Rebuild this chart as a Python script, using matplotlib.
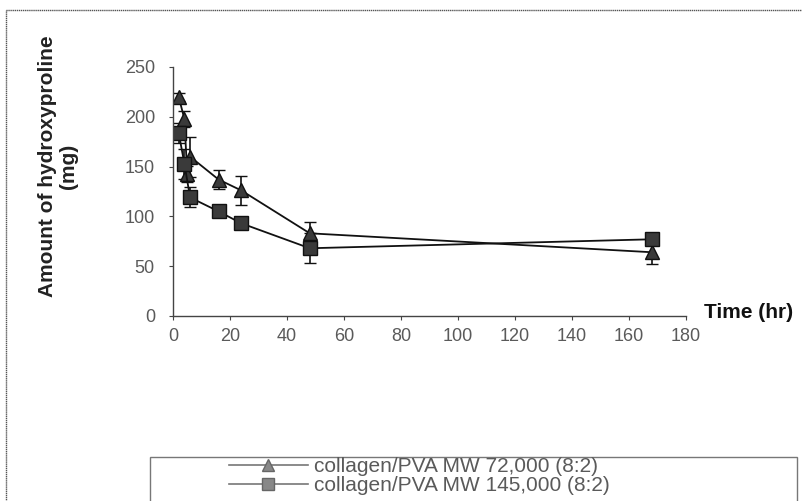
import matplotlib
matplotlib.use("Agg")
import matplotlib.pyplot as plt
from matplotlib.patches import Rectangle
from matplotlib.lines import Line2D

plt.rcParams['font.family'] = ['Liberation Sans', 'DejaVu Sans']

# Time points (hr) and hydroxyproline amounts (mg)
time_72k = [2, 4, 5, 6, 16, 24, 48, 168]
amount_72k = [220, 198, 143, 160, 137, 126, 83, 64]
err_72k = [4, 8, 8, 20, 10, 15, 11, 12]

time_145k = [2, 4, 6, 16, 24, 48, 168]
amount_145k = [184, 153, 119, 105, 93, 68, 77]
err_145k = [10, 15, 10, 4, 4, 15, 6]

labels = ["collagen/PVA MW 72,000 (8:2)", "collagen/PVA MW 145,000 (8:2)"]
x_ticks = list(range(0, 181, 20))
y_ticks = list(range(0, 251, 50))

fig = plt.figure(figsize=(8.03, 5.01), dpi=100)
ax = fig.add_axes([0.2154, 0.3693, 0.6389, 0.497])

ink = '#111111'
common = dict(color=ink, lw=1.3, capsize=4.5, elinewidth=1.2, capthick=1.5,
              markersize=10, markeredgecolor=ink, markeredgewidth=1.0)
ax.errorbar(time_72k, amount_72k, yerr=err_72k, marker='^',
            markerfacecolor='#3a3a3a', **common)
ax.errorbar(time_145k, amount_145k, yerr=err_145k, marker='s',
            markerfacecolor='#3a3a3a', **common)

ax.set_xlim(0, 180)
ax.set_ylim(0, 250)
ax.set_xticks(x_ticks)
ax.set_yticks(y_ticks)
for s in ['top', 'right']:
    ax.spines[s].set_visible(False)
for s in ['left', 'bottom']:
    ax.spines[s].set_color('#444444')
    ax.spines[s].set_linewidth(1.0)
ax.tick_params(axis='both', direction='out', length=3, width=0.8,
               colors='#444444', labelsize=13, labelcolor='#5a5a5a', pad=6)
ax.tick_params(axis='y', pad=10)

fig.text(0.072, 0.668, "Amount of hydroxyproline\n(mg)", rotation=90,
         ha='center', va='center', fontsize=15, fontweight='bold',
         color='#222222', linespacing=1.1)
fig.text(0.877, 0.377, "Time (hr)", ha='left', va='center', fontsize=15,
         fontweight='bold', color='#111111')

# Legend with line-through markers
lh = [Line2D([], [], color='#777777', lw=1.2, marker='^', markersize=9,
             markerfacecolor='#888888', markeredgecolor='#666666'),
      Line2D([], [], color='#777777', lw=1.2, marker='s', markersize=9,
             markerfacecolor='#888888', markeredgecolor='#666666')]
leg = fig.legend(lh, labels, loc='center left',
                 bbox_to_anchor=(0.285, 0.049),
                 fontsize=15, frameon=False, handlelength=3.8,
                 handletextpad=0.3, labelspacing=0.0, borderpad=0.0,
                 borderaxespad=0.0)
for t in leg.get_texts():
    t.set_color('#5a5a5a')

# Legend frame
fig.patches.append(Rectangle((0.187, -0.005), 0.805, 0.093, transform=fig.transFigure,
                             fill=False, edgecolor='#777777', lw=1.0))
# Outer frame around the whole figure
fig.patches.append(Rectangle((0.007, -0.01), 1.0, 0.99, transform=fig.transFigure,
                             fill=False, edgecolor='#555555', lw=1.0, ls=(0, (1, 0.5))))

fig.savefig("out.png", dpi=100)
